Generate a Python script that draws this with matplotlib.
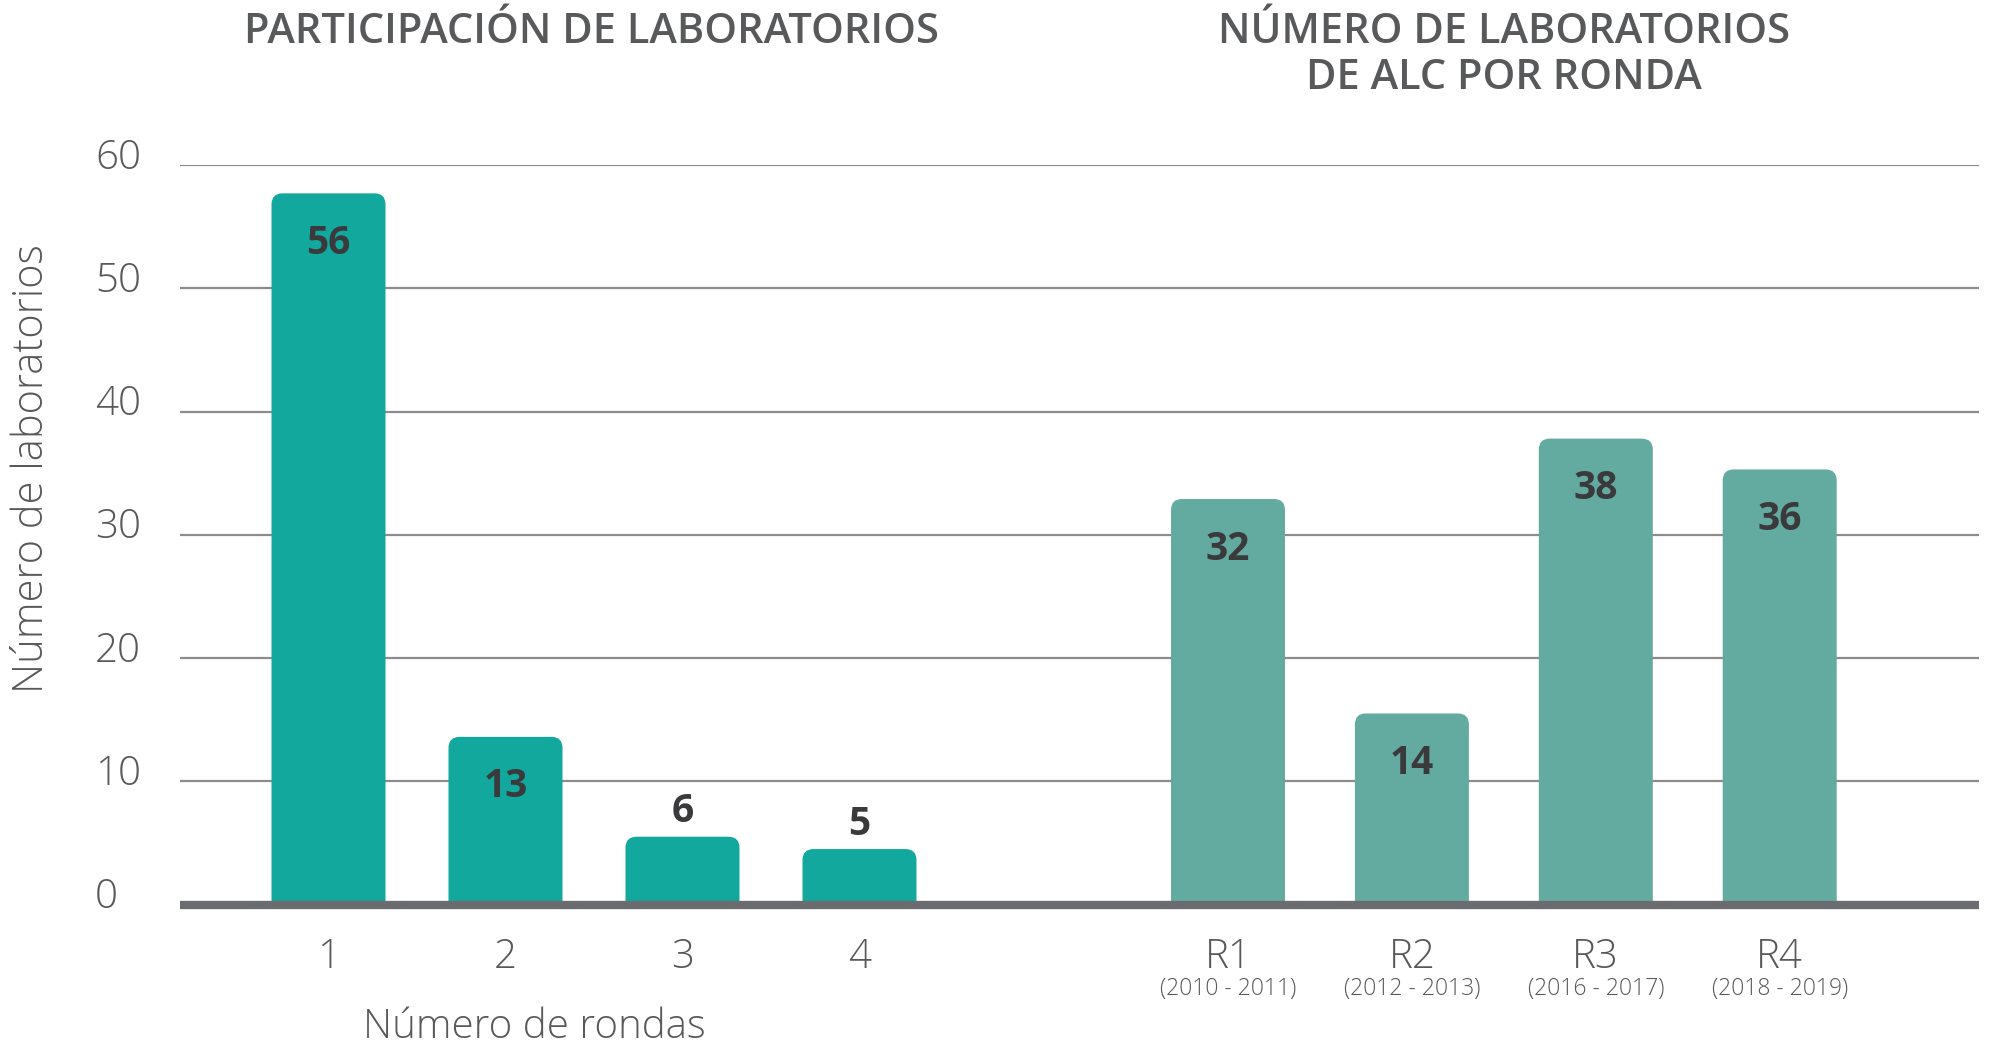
import numpy as np
import matplotlib
matplotlib.use("Agg")
import matplotlib.pyplot as plt
from matplotlib.patches import FancyBboxPatch
from matplotlib.transforms import offset_copy

# data
rondas = ["1", "2", "3", "4"]
part_heights = [57.7, 13.6, 5.5, 4.5]      # bar tops as drawn
part_labels = ["56", "13", "6", "5"]

rondas_alc = ["R1", "R2", "R3", "R4"]
periodos = ["(2010 - 2011)", "(2012 - 2013)", "(2016 - 2017)", "(2018 - 2019)"]
alc_heights = [32.9, 15.5, 37.8, 35.3]
alc_labels = ["32", "14", "38", "36"]

yticks = [0, 10, 20, 30, 40, 50, 60]

TEAL = "#13a89e"
TEAL2 = "#63aaa1"
GREY = "#58595b"
DARK = "#3a3a3c"
FONT = "Open Sans"

W, H = 1989, 1054
fig = plt.figure(figsize=(W / 100, H / 100), dpi=100)
ax_left, ax_right = 180 / W, 1979 / W
ax_bot, ax_top = 1 - 904.5 / H, 1 - 165 / H
ax = fig.add_axes([ax_left, ax_bot, ax_right - ax_left, ax_top - ax_bot])

x1 = np.arange(len(rondas)) * 1.0
x2 = 5.082 + np.arange(len(rondas_alc)) * 1.039
width = 0.644
ax.set_xlim(-0.839, 9.325)
ax.set_ylim(0, 60)

# px -> data conversions for rounded corners
px_x = 1 / 177.0
px_y = 60 / (904.5 - 165)
radius = 11 * px_x
aspect = px_y / px_x
drop = 14 * px_y   # push bottom corners below the axis so they get clipped


def rounded_bars(xs, hs, color):
    bars = ax.bar(xs, hs, width=width, color=color, zorder=2)
    for b in bars:
        b.set_visible(False)
        x0, w, h = b.get_x(), b.get_width(), b.get_height()
        p = FancyBboxPatch((x0, -drop), w, h + drop,
                           boxstyle="round,pad=0,rounding_size=%f" % radius,
                           mutation_aspect=aspect, fc=color, ec="none", zorder=2)
        ax.add_patch(p)
    return bars


rounded_bars(x1, part_heights, TEAL)
rounded_bars(x2, alc_heights, TEAL2)

# value labels
for xs, hs, labs in [(x1, part_heights, part_labels), (x2, alc_heights, alc_labels)]:
    for x, h, lab in zip(xs, hs, labs):
        off = -36 if h > 10 else 18
        ax.annotate(lab, (x, h), xytext=(0, off), textcoords="offset points",
                    ha="center", va="center", fontsize=28, fontweight="bold",
                    color=DARK, family=FONT, zorder=4)

# grid and baseline
for y in yticks[1:]:
    ax.axhline(y, color="#8c8c8f", lw=1.6, zorder=1)
ax.axhline(0, color="#6b6c6f", lw=6, zorder=3, clip_on=False, solid_capstyle="butt")

for s in ax.spines.values():
    s.set_visible(False)
ax.set_xticks([])
ax.set_yticks([])

# y tick labels, left aligned
ytr = offset_copy(ax.get_yaxis_transform(), fig=fig, x=0, y=5, units="points")
for y in yticks:
    ax.text((95 - 180) / 1799, y, str(y), transform=ytr, ha="left", va="center",
            fontsize=29, fontweight="light", color=GREY, family=FONT)

# x tick labels
xtr = ax.get_xaxis_transform()
for x, lab in zip(x1, rondas):
    ax.text(x, -(957 - 904.5) / 739.5, lab, transform=xtr, ha="center", va="center",
            fontsize=29, fontweight="light", color=GREY, family=FONT)
for x, lab, per in zip(x2, rondas_alc, periodos):
    ax.text(x, -(957 - 904.5) / 739.5, lab, transform=xtr, ha="center", va="center",
            fontsize=29, fontweight="light", color=GREY, family=FONT)
    ax.text(x, -(989 - 904.5) / 739.5, per, transform=xtr, ha="center", va="center",
            fontsize=16.5, fontweight="light", color=GREY, family=FONT)

# axis titles
fig.text(534 / W, 1 - 1027 / H, "Número de rondas", ha="center", va="center",
         fontsize=29, fontweight="light", color=GREY, family=FONT)
fig.text(32 / W, 1 - 469 / H, "Número de laboratorios", ha="center", va="center",
         rotation=90, fontsize=30, fontweight="light", color=GREY, family=FONT)

# panel titles
fig.text(592 / W, 1 - 32 / H, "PARTICIPACIÓN DE LABORATORIOS", ha="center", va="center",
         fontsize=30, fontweight="semibold", color=GREY, family=FONT)
fig.text(1504 / W, 1 - 55 / H, "NÚMERO DE LABORATORIOS\nDE ALC POR RONDA", ha="center",
         va="center", fontsize=30, fontweight="semibold", color=GREY, family=FONT,
         linespacing=1.15)

fig.savefig("out.png", dpi=100)
